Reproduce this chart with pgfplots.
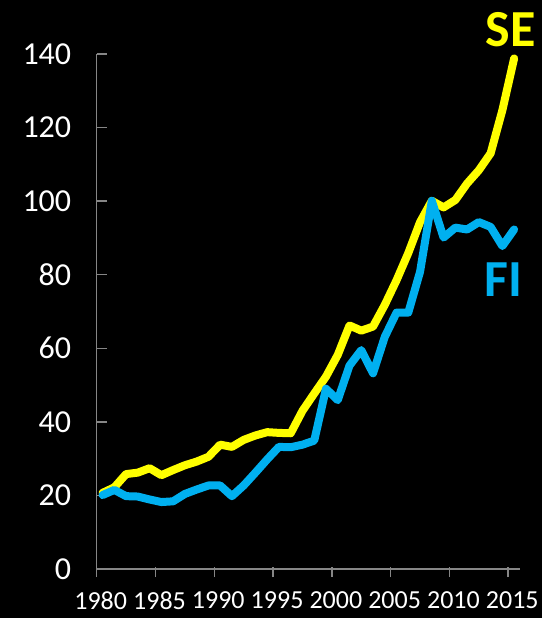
\documentclass[border=0pt]{standalone}
\usepackage{pgfplots}
\pgfplotsset{compat=1.18}
\usepackage{pgfplotstable}
\usepackage{fontspec}
\setmainfont{Carlito}
\definecolor{seyellow}{HTML}{FFFF00}
\definecolor{fiblue}{HTML}{00B0F0}
\definecolor{axgray}{HTML}{868686}
\pgfplotstableread{
year SE FI
1980.5 20.7 20.1
1981.5 22.2 21.5
1982.5 25.8 19.8
1983.5 26.2 19.7
1984.5 27.4 18.9
1985.5 25.5 18.2
1986.5 26.9 18.4
1987.5 28.2 20.4
1988.5 29.2 21.6
1989.5 30.5 22.7
1990.5 33.8 22.7
1991.5 33.2 19.8
1992.5 35.1 22.7
1993.5 36.3 26.2
1994.5 37.2 29.8
1995.5 37.0 33.2
1996.5 36.9 33.1
1997.5 43.0 33.8
1998.5 47.7 34.9
1999.5 52.3 49.0
2000.5 58.2 45.9
2001.5 66.2 55.3
2002.5 64.8 59.5
2003.5 65.9 53.2
2004.5 71.8 63.1
2005.5 78.5 69.7
2006.5 85.9 69.7
2007.5 94.3 80.8
2008.5 100.1 100.1
2009.5 98.3 90.1
2010.5 100.3 92.8
2011.5 104.8 92.3
2012.5 108.4 94.3
2013.5 113.0 93.0
2014.5 124.7 87.8
2015.5 138.8 92.3
}\datatable
\begin{document}
\begin{tikzpicture}[x=1pt,y=1pt]
\fill[black] (0,0) rectangle (542,618);
\begin{axis}[
  at={(96.7pt,49pt)}, anchor=south west,
  scale only axis, width=423.3pt, height=515pt,
  xmin=1980, xmax=2016, ymin=0, ymax=140,
  axis x line=bottom, axis y line=left,
  axis line style={-, draw=axgray, line width=1.5pt},
  xtick={1980,1985,...,2015}, ytick={0,20,...,140},
  tick align=center, major tick length=10pt,
  ytick style={draw=axgray, line width=1.5pt, xshift=5pt},
  xtick style={draw=axgray, line width=1.5pt, yshift=-3pt},
  /pgf/number format/1000 sep={},
  /pgf/number format/assume math mode=true,
  yticklabel style={font=\fontsize{32pt}{38pt}\selectfont, text=white},
  xticklabel style={font=\fontsize{26pt}{30pt}\selectfont, text=white, xshift=4pt},
  yticklabel shift=17pt,
  xticklabel shift=14pt,
  clip=false,
]
\addplot[seyellow, line width=8pt, line cap=round, line join=round] table[x=year, y=SE] {\datatable};
\addplot[fiblue, line width=8pt, line cap=round, line join=round] table[x=year, y=FI] {\datatable};
\node[text=seyellow, font=\bfseries\fontsize{52pt}{60pt}\selectfont, inner sep=0pt] at (axis cs:2015.23,146.7) {SE};
\node[text=fiblue, font=\bfseries\fontsize{52pt}{60pt}\selectfont, inner sep=0pt] at (axis cs:2014.59,78.7) {FI};
\end{axis}
\end{tikzpicture}
\end{document}
